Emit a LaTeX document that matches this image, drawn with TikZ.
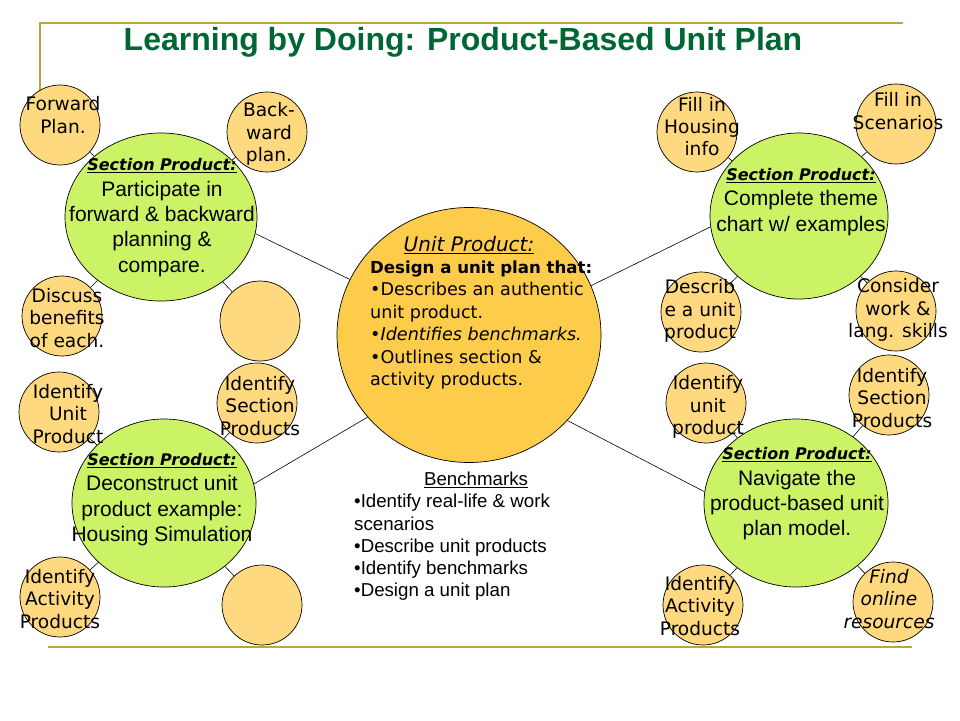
\documentclass[tikz,border=0pt]{standalone}
\usepackage{fontspec}
\setmainfont{Liberation Sans}
\newfontfamily\comic{DejaVu Sans}
\usetikzlibrary{shapes.geometric,backgrounds}
\definecolor{orangeS}{RGB}{255,217,128}
\definecolor{unitC}{RGB}{253,204,75}
\definecolor{greenC}{RGB}{204,242,102}
\definecolor{titleC}{RGB}{0,102,51}
\definecolor{frameC}{RGB}{187,165,60}
\newcommand\secprod{{\comic\bfseries\itshape\fontsize{16}{25.3}\selectfont\underline{Section Product:}}}
\begin{document}
\begin{tikzpicture}[x=1pt,y=-1pt,
  smallc/.style={circle, draw=black, line width=0.7pt, fill=orangeS, minimum size=80pt, inner sep=0pt},
  greenc/.style={ellipse, draw=black, line width=0.7pt, fill=greenC, inner sep=0pt},
  unitc/.style={ellipse, draw=black, line width=0.7pt, fill=unitC, inner sep=0pt},
  stext/.style={font=\comic\fontsize{18.6}{22.4}\selectfont, align=center, inner sep=0pt},
  gtext/.style={font=\fontsize{21}{25.3}\selectfont, align=center, inner sep=0pt},
  conn/.style={draw=black, line width=0.6pt},
  frame/.style={draw=frameC, line width=2.2pt},
  titletext/.style={font=\fontsize{32}{38}\selectfont\bfseries, text=titleC, inner sep=0pt}]
\useasboundingbox (0,0) rectangle (960,720);

\node[titletext] (title) at (463,42) {Learning by Doing: Product-Based Unit Plan};

% big circles
\node[unitc, minimum width=264pt, minimum height=255pt] (unit) at (469,335) {};
\node[greenc, minimum width=192pt, minimum height=168pt] (tlg) at (161,217) {};
\node[greenc, minimum width=178pt, minimum height=166pt] (trg) at (799,216) {};
\node[greenc, minimum width=184pt, minimum height=168pt] (blg) at (164,503) {};
\node[greenc, minimum width=184pt, minimum height=168pt] (brg) at (796,503) {};

% small circles
\node[smallc] (f1) at (60,125) {};
\node[smallc] (f2) at (267,132) {};
\node[smallc] (f3) at (62,316) {};
\node[smallc] (f4) at (260,321) {};
\node[smallc] (f5) at (59,412) {};
\node[smallc] (f6) at (257,403) {};
\node[smallc] (f7) at (60,597) {};
\node[smallc] (f8) at (262,605) {};
\node[smallc] (r1) at (697,132) {};
\node[smallc] (r2) at (896,124) {};
\node[smallc] (r3) at (701,312) {};
\node[smallc] (r4) at (896,311) {};
\node[smallc] (r5) at (706,403) {};
\node[smallc] (r6) at (889,395) {};
\node[smallc] (r7) at (703,605) {};
\node[smallc] (r8) at (893,602) {};

% small circle texts
\node[stext] (tf1) at (63,115) {Forward\\Plan.};
\node[stext] (tf2) at (269,134) {Back-\\ward\\plan.};
\node[stext] (tf3) at (67,318) {Discuss\\benefits\\of each.};
\node[stext] (tf5) at (68,414) {Identify\\Unit\\Product};
\node[stext] (tf6) at (260,406) {Identify\\Section\\Products};
\node[stext] (tf7) at (60,599) {Identify\\Activity\\Products};
\node[stext] (tr1) at (702,126.5) {Fill in\\Housing\\info};
\node[stext] (tr2) at (898,111) {Fill in\\Scenarios};
\node[stext] (tr3) at (700,311) {Describ\\e a unit\\product};
\node[stext] (tr4) at (898,310) {Consider\\work \&\\lang. skills};
\node[stext] (tr5) at (708,407) {Identify\\unit\\product};
\node[stext] (tr6) at (892,398) {Identify\\Section\\Products};
\node[stext] (tr7) at (700,606) {Identify\\Activity\\Products};
\node[stext, font=\comic\itshape\fontsize{18.6}{22.4}\selectfont] (tr8) at (889,599) {Find\\online\\resources};

% green circle texts
\node[gtext] (ttl) at (162,217.5) {\secprod\\Participate in\\forward \& backward\\planning \&\\compare.};
\node[gtext] (ttr) at (801,202) {\secprod\\Complete theme\\chart w/ examples};
\node[gtext] (tbl) at (162,499.5) {\secprod\\Deconstruct unit\\product example:\\Housing Simulation};
\node[gtext] (tbr) at (797,494) {\secprod\\Navigate the\\product-based unit\\plan model.};

% unit product text
\node[font=\comic\itshape\fontsize{20}{24}\selectfont, inner sep=0pt] (uh) at (469,245) {\underline{Unit Product:}};
\node[font=\comic\fontsize{17.6}{22.4}\selectfont, align=left, anchor=west, inner sep=0pt] (ub) at (370,325)
  {{\bfseries\fontsize{16.6}{22.4}\selectfont Design a unit plan that:}\\•Describes an authentic\\unit product.\\{\itshape •Identifies benchmarks.}\\•Outlines section \&\\activity products.};

% benchmarks
\node[font=\fontsize{18.7}{22.3}\selectfont, inner sep=0pt] (bh) at (476,480) {\underline{Benchmarks}};
\node[font=\fontsize{18.7}{22.3}\selectfont, align=left, anchor=west, inner sep=0pt] (bb) at (354,547.5)
  {•Identify real-life \& work\\scenarios\\•Describe unit products\\•Identify benchmarks\\•Design a unit plan};

\begin{pgfonlayer}{background}
\fill[white] (0,0) rectangle (960,720);
\draw[frame] (903,23) -- (40,23) -- (40,110);
\draw[frame] (48,647) -- (912,647);
\draw[conn] (tlg.-10) -- (unit.155.6);
\draw[conn] (trg.187.4) -- (unit.22.5);
\draw[conn] (blg.12) -- (unit.219);
\draw[conn] (brg.173.4) -- (unit.-41.3);
\foreach \a/\b in {f1/tlg, f2/tlg, f3/tlg, f4/tlg, f5/blg, f6/blg, f7/blg, f8/blg, r1/trg, r2/trg, r3/trg, r4/trg, r5/brg, r6/brg, r7/brg, r8/brg}
  \draw[conn] (\a) -- (\b);
\end{pgfonlayer}
\end{tikzpicture}
\end{document}
